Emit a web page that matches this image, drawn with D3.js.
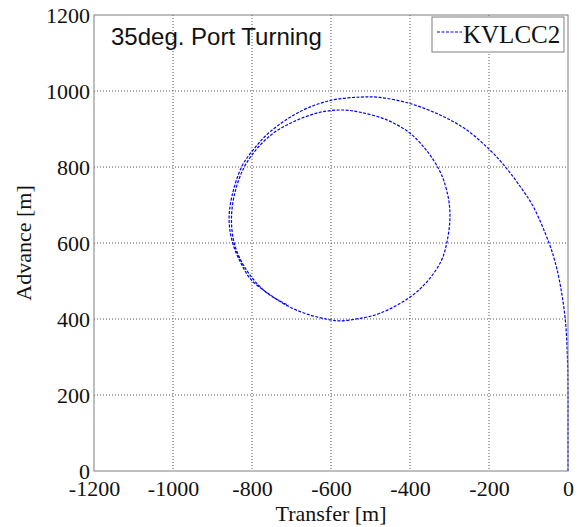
<!DOCTYPE html>
<html>
<head>
<meta charset="utf-8">
<script src="https://cdn.jsdelivr.net/npm/d3@7"></script>
<style>
  body { margin: 0; background: #fff; }
</style>
</head>
<body>
<div id="chart"></div>
<script>
// turning trajectory
const transfer = [0, 0, 0, -1, -7, -22, -34, -48, -88, -122, -159, -202, -260, -324, -400, -476, -527,
  -602, -678, -754, -797, -826, -851, -858, -849, -828, -802, -760, -709, -658, -598, -577, -530,
  -476, -398, -353, -320, -307, -299, -302, -315, -326, -345, -364, -400, -459, -526, -569, -628, -695,
  -746, -790, -822, -845, -852, -845, -825, -797, -759, -708]
const advance = [0, 100, 200, 284, 400, 503, 555, 600, 696, 750, 801, 849, 900, 937, 967, 983, 984,
  975, 946, 893, 845, 801, 722, 660, 600, 547, 503, 468, 434, 412, 397, 395, 401,
  415, 459, 503, 555, 600, 661, 713, 766, 792, 825, 851, 889, 924, 944, 950, 944, 919,
  889, 845, 795, 725, 660, 600, 548, 505, 466, 436]

const xTicks = [-1200, -1000, -800, -600, -400, -200, 0]
const yTicks = [0, 200, 400, 600, 800, 1000, 1200]

const W = 579, H = 527
const pLeft = 94, pRight = 568, pTop = 15, pBottom = 471
const c_blue = '#0000ff'
const c_axis = '#7f7f7f'
const serif = '"Liberation Serif", "Times New Roman", serif'

const svg = d3.select('#chart').append('svg')
  .attr('width', W)
  .attr('height', H)

const x = d3.scaleLinear().domain([-1200, 0]).range([pLeft, pRight])
const y = d3.scaleLinear().domain([0, 1200]).range([pBottom, pTop])

// grid
svg.append('g').selectAll('line')
  .data(xTicks.slice(1, -1))
  .enter().append('line')
  .attr('x1', (d) => x(d)).attr('x2', (d) => x(d))
  .attr('y1', pTop).attr('y2', pBottom)
  .attr('stroke', '#555').attr('stroke-dasharray', '1,2')

svg.append('g').selectAll('line')
  .data(yTicks.slice(1, -1))
  .enter().append('line')
  .attr('x1', pLeft).attr('x2', pRight)
  .attr('y1', (d) => y(d)).attr('y2', (d) => y(d))
  .attr('stroke', '#555').attr('stroke-dasharray', '1,2')

// axes, plain hyphen minus like the original
const fmt = (d) => String(d)
const xAxis = d3.axisBottom(x).tickValues(xTicks).tickSize(0).tickPadding(9).tickFormat(fmt)
const yAxis = d3.axisLeft(y).tickValues(yTicks).tickSize(0).tickPadding(4).tickFormat(fmt)

function styleAxis (g) {
  g.select('.domain').remove()
  g.selectAll('text')
    .attr('fill', '#111')
    .style('font-family', serif)
    .style('font-size', '22px')
}

svg.append('g')
  .attr('transform', `translate(0,${pBottom})`)
  .call(xAxis)
  .call(styleAxis)

svg.append('g')
  .attr('transform', `translate(${pLeft},0)`)
  .call(yAxis)
  .call(styleAxis)

// trajectory
const pts = transfer.map((t, i) => [t, advance[i]])
const line = d3.line()
  .x((d) => x(d[0]))
  .y((d) => y(d[1]))
  .curve(d3.curveCatmullRom)

svg.append('path')
  .datum(pts)
  .attr('d', line)
  .attr('fill', 'none')
  .attr('stroke', c_blue)
  .attr('stroke-width', 1.2)
  .attr('stroke-dasharray', '3,1.5')

// frame
svg.append('rect')
  .attr('x', pLeft).attr('y', pTop)
  .attr('width', pRight - pLeft).attr('height', pBottom - pTop)
  .attr('fill', 'none')
  .attr('stroke', c_axis)

// title inside
svg.append('text')
  .text('35deg. Port Turning')
  .attr('x', 111).attr('y', 45)
  .style('font-family', '"Liberation Sans", Arial, sans-serif')
  .style('font-size', '24px')
  .attr('fill', '#111')

// legend
const lg = svg.append('g')
lg.append('rect')
  .attr('x', 432).attr('y', 17)
  .attr('width', 132).attr('height', 35)
  .attr('fill', '#fff')
  .attr('stroke', c_axis)
lg.append('line')
  .attr('x1', 437).attr('x2', 462)
  .attr('y1', 32).attr('y2', 32)
  .attr('stroke', c_blue)
  .attr('stroke-width', 1.2)
  .attr('stroke-dasharray', '3,1.5')
lg.append('text')
  .text('KVLCC2')
  .attr('x', 463).attr('y', 43)
  .style('font-family', serif)
  .style('font-size', '25px')
  .attr('fill', '#111')

// axis titles
svg.append('text')
  .text('Transfer [m]')
  .attr('x', (pLeft + pRight) / 2).attr('y', 521)
  .attr('text-anchor', 'middle')
  .style('font-family', serif)
  .style('font-size', '22px')
  .attr('fill', '#111')

svg.append('text')
  .text('Advance [m]')
  .attr('transform', `translate(31,${(pTop + pBottom) / 2}) rotate(-90)`)
  .attr('text-anchor', 'middle')
  .style('font-family', serif)
  .style('font-size', '22px')
  .attr('fill', '#111')
</script>
</body>
</html>
